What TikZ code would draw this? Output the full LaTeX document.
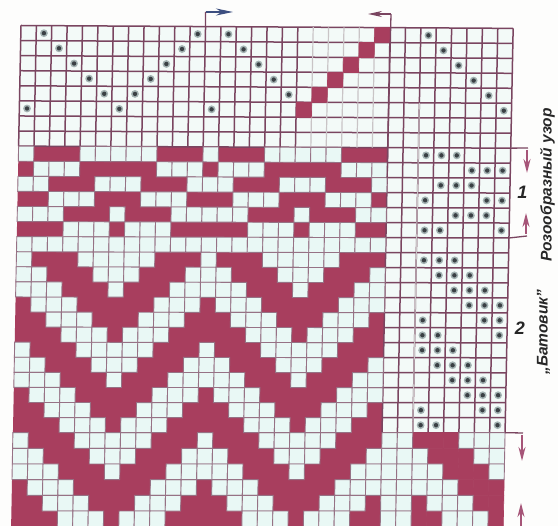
\documentclass[tikz,border=0pt]{standalone}
\usepackage{fontspec}
\setmainfont{Liberation Sans}
\usetikzlibrary{arrows.meta}
\definecolor{paper}{HTML}{FDFDFC}
\definecolor{cellbg}{HTML}{F3FAF8}
\definecolor{cellw}{HTML}{E9F8F5}
\definecolor{wine}{HTML}{A83E5E}
\definecolor{gridc}{HTML}{7A4560}
\definecolor{palegrid}{HTML}{C9C4C6}
\definecolor{dotc}{HTML}{3A4044}
\definecolor{halo}{HTML}{A3B2B2}
\definecolor{arrowred}{HTML}{A65578}
\definecolor{arrowblue}{HTML}{3D4F80}
\newcommand\Pt[2]{({21+15.38*(#1)-0.3*(#2)},{-Yr(#2)-0.09*(#1)*max(0,1-(#2)/27)})}
\newcommand\cellq[3]{\filldraw[fill=#1,draw=#1,line width=.6pt] \Pt{#2}{#3} -- \Pt{#2+1}{#3} -- \Pt{#2+1}{#3+1} -- \Pt{#2}{#3+1} -- cycle;}
\newcommand\cellb[2]{\filldraw[bandcell] \Pt{#1}{#2} -- \Pt{#1+1}{#2} -- \Pt{#1+1}{#2+1} -- \Pt{#1}{#2+1} -- cycle;}
\newcommand\dotq[2]{\fill[halo] \Pt{#1+.5}{#2+.5} circle (3.9); \fill[dotc] \Pt{#1+.5}{#2+.5} circle (2.2);}
\tikzset{
  gridline/.style={draw=gridc,line width=1.5pt},
  bandcell/.style={fill=cellw,draw=gridc!75!cellw,line width=.9pt},
  bracket/.style={draw=gridc,line width=1.3pt},
  markred/.style={draw=arrowred,line width=1.8pt,-{Stealth[length=14pt,width=7pt]}},
  markblue/.style={draw=arrowblue,line width=1.8pt,-{Stealth[length=17pt,width=7pt]}},
  markdark/.style={draw=gridc,line width=1.5pt,-{Stealth[length=14pt,width=6pt]}},
  sidelabel/.style={rotate=90,inner sep=0pt,font=\fontsize{15.5}{18}\selectfont\itshape\bfseries,text=black!85},
  numlabel/.style={inner sep=0pt,font=\fontsize{18}{20}\selectfont\itshape\bfseries,text=black!85}
}
\begin{document}
\begin{tikzpicture}[x=1pt,y=1pt,
  declare function={Yr(\r)=(\r<=27)*(25.5+15.08*\r)+(\r>27)*(432.66+15.67*(\r-27));}]
\useasboundingbox (0,0) rectangle (558,-526);
\fill[paper] (0,0) rectangle (558,-526);
% base of the grid
\fill[cellbg] \Pt{0}{0} -- \Pt{32}{0} -- \Pt{32}{33} -- \Pt{0}{33} -- cycle;
% red bands
\fill[wine] \Pt{0}{8} -- \Pt{24}{8} -- \Pt{24}{14} -- \Pt{0}{14} -- cycle;
\fill[wine] \Pt{0}{15} -- \Pt{24}{15} -- \Pt{24}{33} -- \Pt{0}{33} -- cycle;
% grid of the open field
\foreach \rr in {0,...,8}{\draw[gridline] \Pt{0}{\rr} -- \Pt{32}{\rr};}
\foreach \rr in {9,...,27}{\draw[gridline] \Pt{24}{\rr} -- \Pt{32}{\rr};}
\foreach \cc in {0,...,18}{\draw[gridline] \Pt{\cc}{0} -- \Pt{\cc}{8};}
\foreach \cc in {24,...,32}{\draw[gridline] \Pt{\cc}{0} -- \Pt{\cc}{27};}
\foreach \cc in {19,...,23}{\draw[draw=palegrid,line width=1.2pt] \Pt{\cc}{0} -- \Pt{\cc}{8};}
\draw[draw=palegrid,line width=1pt] \Pt{26}{5} -- \Pt{26}{27};
\foreach \rr/\cc in {0/23,1/22,2/21,3/20,4/19,5/18,
  27/26,27/27,27/28,28/27,28/28,28/29,29/28,29/29,29/30,
  30/29,30/30,30/31,31/26,31/30,31/31,32/26,32/27,32/31}{\cellq{wine}{\cc}{\rr}}
% white cells of the bands (period of 12 columns)
\foreach \rr/\lst in {
  8/{0,4,5,6,7,8},15/{0,4,5,6,7,8},21/{0,4,5,6,7,8},27/{0,4,5,6,7,8},
  9/{1,2,3,9,10,11},18/{1,2,3,9,10,11},24/{1,2,3,9,10,11},30/{1,2,3,9,10,11},
  10/{0,1,5,6,7,11},16/{0,1,5,6,7,11},22/{0,1,5,6,7,11},28/{0,1,5,6,7,11},
  11/{2,3,4,8,9,10},19/{2,3,4,8,9,10},25/{2,3,4,8,9,10},31/{2,3,4,8,9,10},
  12/{0,1,2,6,10,11},17/{0,1,2,6,10,11},23/{0,1,2,6,10,11},29/{0,1,2,6,10,11},
  13/{3,4,5,7,8,9},20/{3,4,5,7,8,9},26/{3,4,5,7,8,9},32/{3,4,5,7,8,9},
  14/{0,1,2,3,4,5,6,7,8,9,10,11}}{
  \foreach \cc in \lst {
    \cellb{\cc}{\rr}
    \cellb{\cc+12}{\rr}
  }
}
% white cells at the lower right
\foreach \rr/\lst in {27/{24,25,29,30,31},28/{24,25,26,30,31},29/{24,25,26,27,31},
  30/{24,25,26,27,28},31/{24,25,27,28,29},32/{24,25,28,29,30}}{
  \foreach \cc in \lst {\cellb{\cc}{\rr}}
}
% dots
\foreach \rr/\lst in {0/{1,11,13,26},1/{2,10,14,27},2/{3,9,15,28},3/{4,8,16,29},4/{5,7,17,30},5/{0,6,12,31},
  8/{26,27,28},9/{29,30,31},10/{27,28,29},11/{26,30,31},12/{28,29,30},13/{26,27,31},
  15/{26,27,28},16/{27,28,29},17/{28,29,30},18/{29,30,31},19/{26,30,31},20/{26,27,31},
  21/{26,27,28},22/{27,28,29},23/{28,29,30},24/{29,30,31},25/{26,30,31},26/{26,27,31}}{
  \foreach \cc in \lst {\dotq{\cc}{\rr}}
}
% marks above the grid
\path \Pt{12}{0} coordinate (topA);
\coordinate (topAk) at (205.5,-12);
\coordinate (topAe) at (233,-12);
\path \Pt{24}{10} coordinate (topB);
\coordinate (topBk) at (391,-14);
\coordinate (topBe) at (368,-14);
\draw[bracket] (topA) -- (topAk);
\draw[markblue] (topAk) -- (topAe);
\draw[bracket] (topB) -- (topBk);
\draw[markdark] (topBk) -- (topBe);
% marks at the right
\path \Pt{32}{8} coordinate (r1a);
\coordinate (r1b) at (528,-148);
\coordinate (r1c) at (527,-150);
\coordinate (r1d) at (527,-173);
\path \Pt{32}{14} coordinate (r2a);
\coordinate (r2b) at (527,-236);
\coordinate (r2c) at (526,-234);
\coordinate (r2d) at (526,-213);
\path \Pt{32}{27} coordinate (r3a);
\coordinate (r3b) at (523,-433);
\coordinate (r3c) at (522,-435);
\coordinate (r3d) at (522,-461);
\coordinate (r4c) at (521,-526);
\coordinate (r4d) at (521,-503);
\draw[bracket] (r1a) -- (r1b);
\draw[markred] (r1c) -- (r1d);
\draw[bracket] (r2a) -- (r2b);
\draw[markred] (r2c) -- (r2d);
\draw[bracket] (r3a) -- (r3b);
\draw[markred] (r3c) -- (r3d);
\draw[markred] (r4c) -- (r4d);
% labels
\node[sidelabel] (lab1) at (547.5,-185) {Розообразный узор};
\node[sidelabel] (lab2) at (543.5,-332) {„Батовик”};
\node[numlabel] (num1) at (522.5,-192) {1};
\node[numlabel] (num2) at (520,-328) {2};
\end{tikzpicture}
\end{document}
